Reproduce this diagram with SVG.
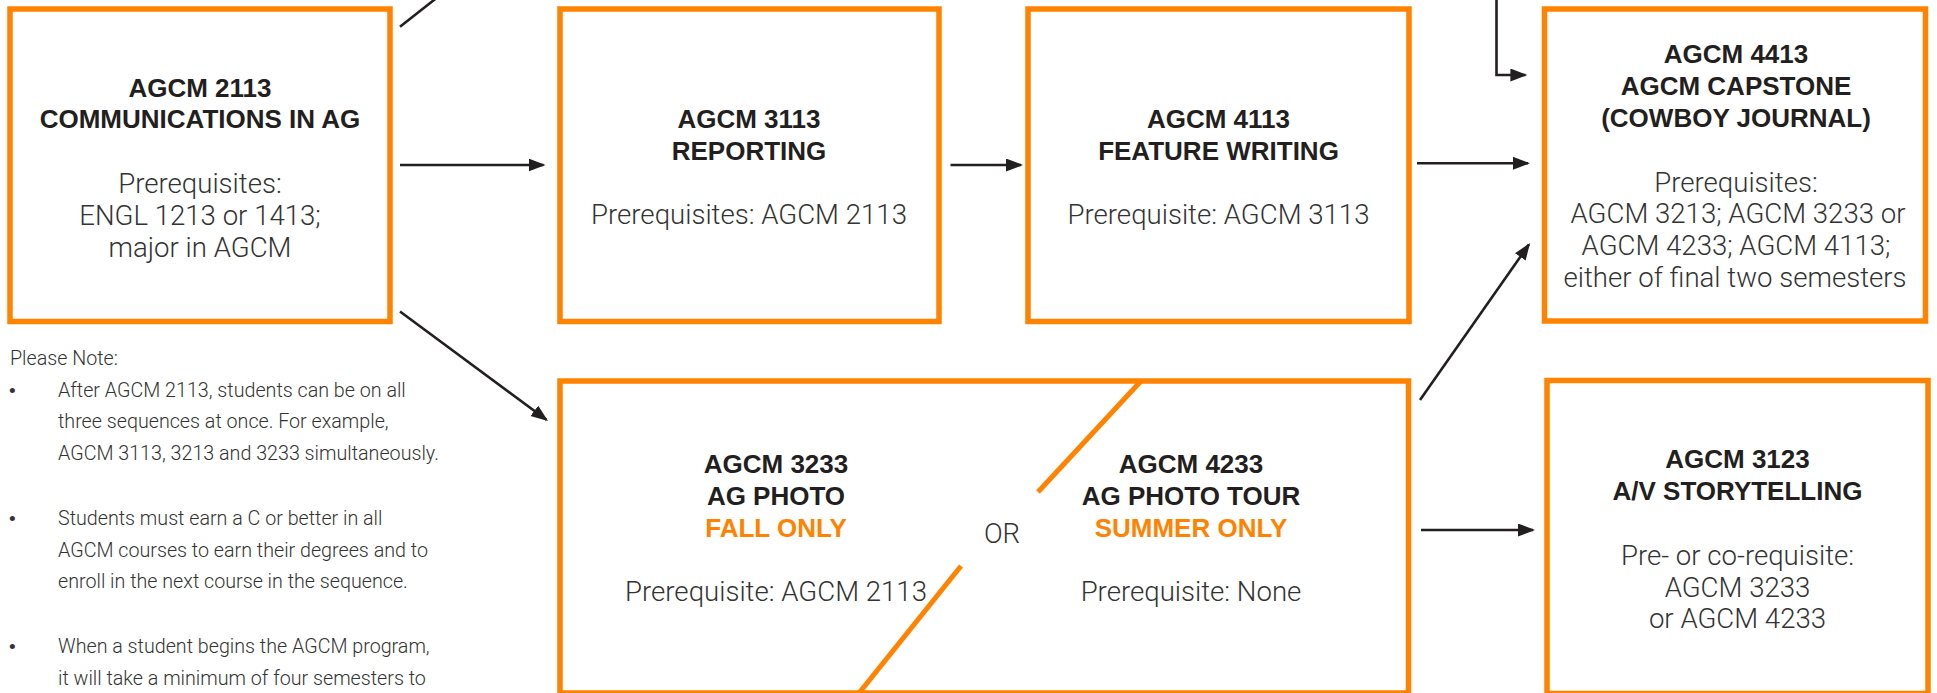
<svg xmlns="http://www.w3.org/2000/svg" width="1937" height="693" viewBox="0 0 1937 693">
  <defs>
    <marker id="arrow" markerUnits="userSpaceOnUse" markerWidth="18" markerHeight="14" refX="15" refY="6.5" orient="auto">
      <path d="M0,0 L17,6.5 L0,13 Z" fill="#231F20"/>
    </marker>
  </defs>
  <style>
    .box { fill: #FFFFFF; stroke: #FF8300; stroke-width: 5.5; }
    .slash { stroke: #FF8300; stroke-width: 5; fill: none; }
    .conn { stroke: #231F20; stroke-width: 2.6; fill: none; }
    .arr { marker-end: url(#arrow); }
    .h { font-family: "Liberation Sans", Arial, sans-serif; font-weight: bold; font-size: 26px; fill: #231F20; text-anchor: middle; }
    .o { fill: #FF8300; }
    .b { font-family: Roboto, "Liberation Sans", Arial, sans-serif; font-weight: 300; font-size: 27.6px; fill: #333333; text-anchor: middle; }
    .n { font-family: Roboto, "Liberation Sans", Arial, sans-serif; font-weight: 300; font-size: 19.7px; fill: #333333; }
    .bul { font-family: "Liberation Sans", Arial, sans-serif; font-size: 19px; fill: #333333; }
  </style>
  <rect width="1937" height="693" fill="#FFFFFF"/>

  <g id="connectors">
    <path class="conn" d="M400,26.7 L450,-12.6"/>
    <path class="conn arr" d="M400,165 H543.5"/>
    <path class="conn arr" d="M950.5,165 H1021"/>
    <path class="conn arr" d="M1417,163.3 H1528"/>
    <path class="conn arr" d="M1496.5,-5 V75 H1525.4"/>
    <path class="conn arr" d="M400,311.5 L546.4,419.8"/>
    <path class="conn arr" d="M1420,400 L1528.9,244.6"/>
    <path class="conn arr" d="M1421,530 H1533"/>
  </g>

  <g id="agcm2113">
    <rect class="box" x="10" y="9" width="380" height="312.5"/>
    <text class="h" x="200" y="96.7">AGCM 2113</text>
    <text class="h" x="200" y="128.3">COMMUNICATIONS IN AG</text>
    <text class="b" x="200" y="193.3">Prerequisites:</text>
    <text class="b" x="200" y="225">ENGL 1213 or 1413;</text>
    <text class="b" x="200" y="256.7">major in AGCM</text>
  </g>

  <g id="agcm3113">
    <rect class="box" x="560" y="9" width="379" height="312.5"/>
    <text class="h" x="749" y="128.3">AGCM 3113</text>
    <text class="h" x="749" y="160">REPORTING</text>
    <text class="b" x="749" y="224">Prerequisites: AGCM 2113</text>
  </g>

  <g id="agcm4113">
    <rect class="box" x="1028" y="9" width="381" height="312.5"/>
    <text class="h" x="1218.5" y="128.3">AGCM 4113</text>
    <text class="h" x="1218.5" y="160">FEATURE WRITING</text>
    <text class="b" x="1218.5" y="224">Prerequisite: AGCM 3113</text>
  </g>

  <g id="agcm4413">
    <rect class="box" x="1544.5" y="9" width="381" height="312"/>
    <text class="h" x="1736" y="63.3">AGCM 4413</text>
    <text class="h" x="1736" y="95">AGCM CAPSTONE</text>
    <text class="h" x="1736" y="126.7">(COWBOY JOURNAL)</text>
    <text class="b" x="1736" y="191.7">Prerequisites:</text>
    <text class="b" x="1738" y="222.7">AGCM 3213; AGCM 3233 or</text>
    <text class="b" x="1736" y="255">AGCM 4233; AGCM 4113;</text>
    <text class="b" x="1735" y="286.7">either of final two semesters</text>
  </g>

  <g id="agcm3233-4233">
    <rect class="box" x="560" y="381" width="848.5" height="312"/>
    <path class="slash" d="M1141,381 L1038,492"/>
    <path class="slash" d="M961,566 L857.5,695"/>
    <text class="h" x="776" y="473.3">AGCM 3233</text>
    <text class="h" x="776" y="505">AG PHOTO</text>
    <text class="h o" x="776" y="536.7">FALL ONLY</text>
    <text class="b" x="776" y="600.7">Prerequisite: AGCM 2113</text>
    <text class="b" x="1002" y="542.7">OR</text>
    <text class="h" x="1191" y="473.3">AGCM 4233</text>
    <text class="h" x="1191" y="505">AG PHOTO TOUR</text>
    <text class="h o" x="1191" y="536.7">SUMMER ONLY</text>
    <text class="b" x="1191" y="600.7">Prerequisite: None</text>
  </g>

  <g id="agcm3123">
    <rect class="box" x="1547" y="380.5" width="381" height="313"/>
    <text class="h" x="1737.5" y="468.3">AGCM 3123</text>
    <text class="h" x="1737.5" y="500">A/V STORYTELLING</text>
    <text class="b" x="1737.5" y="565">Pre- or co-requisite:</text>
    <text class="b" x="1737.5" y="596.7">AGCM 3233</text>
    <text class="b" x="1737.5" y="628.3">or AGCM 4233</text>
  </g>

  <g id="note">
    <text class="n" x="10" y="365">Please Note:</text>
    <text class="bul" x="9" y="396.7">•</text>
    <text class="n" x="58" y="396.7">After AGCM 2113, students can be on all</text>
    <text class="n" x="58" y="428.3">three sequences at once. For example,</text>
    <text class="n" x="58" y="460">AGCM 3113, 3213 and 3233 simultaneously.</text>
    <text class="bul" x="9" y="525">•</text>
    <text class="n" x="58" y="525">Students must earn a C or better in all</text>
    <text class="n" x="58" y="556.7">AGCM courses to earn their degrees and to</text>
    <text class="n" x="58" y="588.3">enroll in the next course in the sequence.</text>
    <text class="bul" x="9" y="653.3">•</text>
    <text class="n" x="58" y="653.3">When a student begins the AGCM program,</text>
    <text class="n" x="58" y="685">it will take a minimum of four semesters to</text>
  </g>
</svg>
